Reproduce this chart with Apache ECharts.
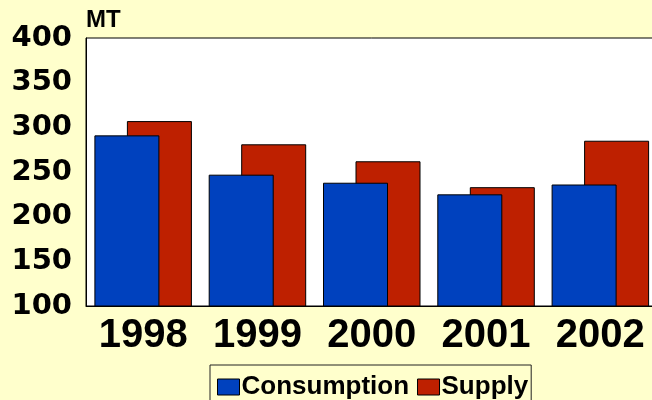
<!DOCTYPE html>
<html>
<head>
<meta charset="utf-8">
<script src="https://cdn.jsdelivr.net/npm/echarts@6/dist/echarts.min.js"></script>
<style>
html,body{margin:0;padding:0;background:#FFFFCC;overflow:hidden;width:652px;height:400px;}
#chart{width:660px;height:400px;}
</style>
</head>
<body>
<div id="chart"></div>
<script>
var years = ['1998', '1999', '2000', '2001', '2002'];
var consumption = [291, 247, 238, 225, 236];
var supply = [307, 281, 262, 233, 285];
var seriesNames = ['Consumption', 'Supply'];
var yMin = 100, yMax = 400, yStep = 50;
var unitLabel = 'MT';

var chart = echarts.init(document.getElementById('chart'), null, {renderer: 'canvas'});
chart.setOption({
  backgroundColor: '#FFFFCC',
  animation: false,
  grid: {
    left: 86, top: 38, bottom: 94, width: 571.5,
    show: true, backgroundColor: '#FFFFFF', borderColor: '#000000', borderWidth: 1
  },
  legend: {
    data: seriesNames,
    left: 210, top: 365,
    padding: [9, 3, 20, 7],
    icon: 'rect',
    itemWidth: 22, itemHeight: 16, itemGap: 8,
    backgroundColor: '#FFFFCC',
    borderColor: '#222222', borderWidth: 1,
    textStyle: {fontFamily: 'Liberation Sans', fontWeight: 'bold', fontSize: 26, color: '#000', padding: [0, 0, 0, -3]},
    itemStyle: {borderColor: '#000', borderWidth: 1}
  },
  xAxis: {
    type: 'category',
    data: years,
    axisLine: {lineStyle: {color: '#000', width: 1}},
    axisTick: {show: false},
    axisLabel: {interval: 0, hideOverlap: false, fontFamily: 'Liberation Sans', fontWeight: 'bold', fontSize: 40, color: '#000', margin: 10}
  },
  yAxis: {
    type: 'value',
    min: yMin, max: yMax, interval: yStep,
    name: unitLabel,
    nameLocation: 'end',
    nameGap: 6,
    nameTextStyle: {fontFamily: 'Liberation Sans', fontWeight: 'bold', fontSize: 24, color: '#000', align: 'left', verticalAlign: 'bottom'},
    axisLine: {show: true, lineStyle: {color: '#000', width: 1}},
    axisTick: {show: false},
    splitLine: {show: false},
    axisLabel: {fontFamily: 'DejaVu Sans', fontWeight: 'bold', fontSize: 29, color: '#000', margin: 14}
  },
  series: [
    {
      name: seriesNames[0], type: 'bar', data: consumption,
      barWidth: 65, barGap: '-50%', z: 3,
      itemStyle: {color: '#0041BE', borderColor: '#000', borderWidth: 1}
    },
    {
      name: seriesNames[1], type: 'bar', data: supply,
      barWidth: 65, barGap: '-50%', z: 2,
      itemStyle: {color: '#BE2000', borderColor: '#000', borderWidth: 1}
    }
  ]
});
</script>
</body>
</html>
